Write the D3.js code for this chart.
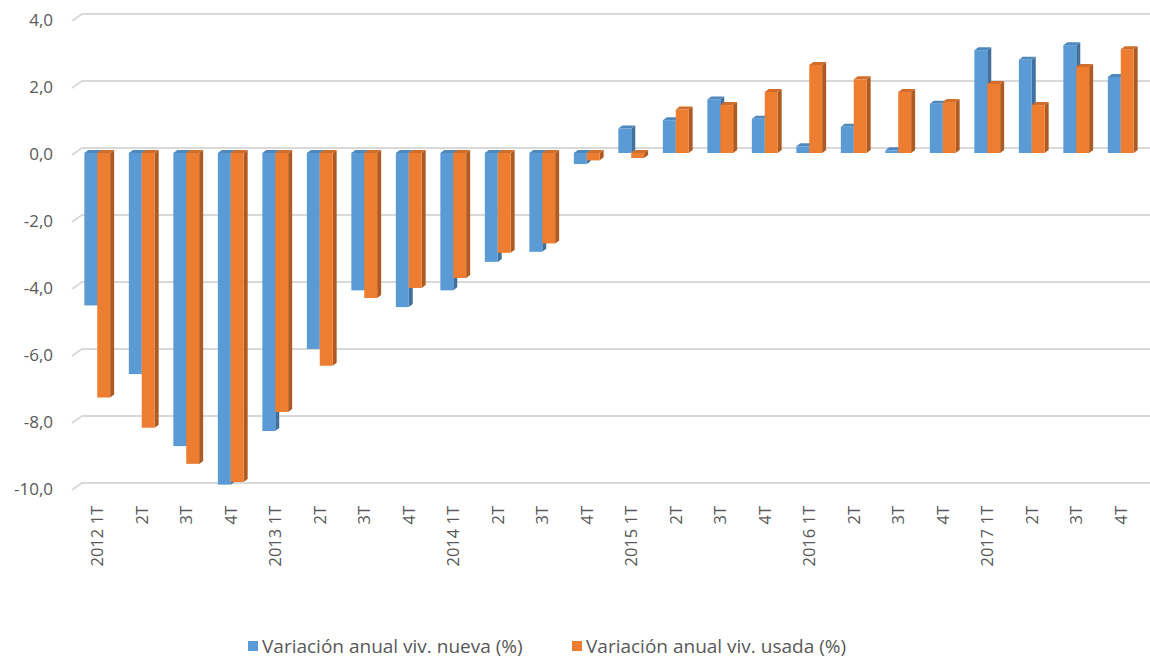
<!DOCTYPE html>
<html>
<head>
<meta charset="utf-8">
<script src="https://cdn.jsdelivr.net/npm/d3@7"></script>
<style>
  body { margin: 0; background: #fff; }
  text { font-family: "Open Sans", "Noto Sans", sans-serif; fill: #595959; }
</style>
</head>
<body>
<svg width="1150" height="659"></svg>
<script>
var categories = ['2012 1T', '2T', '3T', '4T', '2013 1T', '2T', '3T', '4T',
  '2014 1T', '2T', '3T', '4T', '2015 1T', '2T', '3T', '4T',
  '2016 1T', '2T', '3T', '4T', '2017 1T', '2T', '3T', '4T'];

var nueva = [-4.55, -6.6, -8.75, -9.9, -8.3, -5.85, -4.1, -4.6,
  -4.1, -3.25, -2.95, -0.33, 0.73, 0.98, 1.6, 1.02,
  0.2, 0.78, 0.08, 1.47, 3.07, 2.78, 3.22, 2.27];

var usada = [-7.3, -8.2, -9.28, -9.82, -7.73, -6.35, -4.33, -4.03,
  -3.73, -2.98, -2.7, -0.22, -0.15, 1.3, 1.43, 1.82,
  2.63, 2.2, 1.82, 1.52, 2.06, 1.43, 2.57, 3.1];

var yTicks = [4, 2, 0, -2, -4, -6, -8, -10];
var yTickLabels = ['4,0', '2,0', '0,0', '-2,0', '-4,0', '-6,0', '-8,0', '-10,0'];

var seriesNames = ['Variación anual viv. nueva (%)', 'Variación anual viv. usada (%)'];

var width = 1150;
var height = 659;
var depthX = 4, depthY = 3;   // bar side / top depth
var wallX = 10, wallY = 7;    // gridline floor diagonal

var svg = d3.select('svg');

var xScale = d3.scaleBand()
  .domain(d3.range(categories.length))
  .range([75, 1143])
  .paddingInner(0.42)
  .paddingOuter(0.21);

var yScale = d3.scaleLinear()
  .domain([-10, 4])
  .range([488, 19]);

// back wall gridlines
var grid = svg.append('g');
yTicks.forEach(function (t) {
  var yb = yScale(t) - 5;
  grid.append('path')
    .attr('d', 'M' + (82 - wallX) + ',' + (yb + wallY) + 'L82,' + yb + 'L' + width + ',' + yb)
    .attr('fill', 'none')
    .attr('stroke', '#d9d9d9')
    .attr('stroke-width', 2);
});

// y labels
svg.append('g')
  .selectAll('text')
  .data(yTicks)
  .enter()
  .append('text')
  .attr('x', 53)
  .attr('y', d => yScale(d) + 1)
  .attr('dy', '0.35em')
  .style('text-anchor', 'end')
  .style('font-size', '17px')
  .text((d, i) => yTickLabels[i]);

var sub = d3.scaleBand()
  .domain([0, 1])
  .range([0, xScale.bandwidth()]);

var series = [
  { values: nueva, front: '#5b9bd5', side: '#41719c', top: '#4f88bd' },
  { values: usada, front: '#ed7d31', side: '#ae5a21', top: '#d06d2a' }
];

var bars = svg.append('g');
categories.forEach(function (c, i) {
  series.forEach(function (s, k) {
    var v = s.values[i];
    var x0 = xScale(i) + sub(k);
    var x1 = x0 + sub.bandwidth();
    var yTop = yScale(Math.max(0, v));
    var yBot = yScale(Math.min(0, v));
    var g = bars.append('g');
    g.append('path')
      .attr('d', 'M' + x1 + ',' + yTop + 'L' + (x1 + depthX) + ',' + (yTop - depthY) +
        'L' + (x1 + depthX) + ',' + (yBot - depthY) + 'L' + x1 + ',' + yBot + 'Z')
      .attr('fill', s.side);
    g.append('path')
      .attr('d', 'M' + x0 + ',' + yTop + 'L' + (x0 + depthX) + ',' + (yTop - depthY) +
        'L' + (x1 + depthX) + ',' + (yTop - depthY) + 'L' + x1 + ',' + yTop + 'Z')
      .attr('fill', s.top);
    g.append('rect')
      .attr('x', x0)
      .attr('y', yTop)
      .attr('width', sub.bandwidth())
      .attr('height', Math.max(0.5, yBot - yTop))
      .attr('fill', s.front);
  });
});

// x labels
svg.append('g')
  .selectAll('text')
  .data(categories)
  .enter()
  .append('text')
  .attr('transform', (d, i) => 'translate(' + (xScale(i) + xScale.bandwidth() / 2 + 6) + ',506) rotate(-90)')
  .style('text-anchor', 'end')
  .style('font-size', '16.5px')
  .text(d => d);

// legend
var legendX = [248, 572];
var legend = svg.append('g');
seriesNames.forEach(function (name, k) {
  legend.append('rect')
    .attr('x', legendX[k])
    .attr('y', 641)
    .attr('width', 10)
    .attr('height', 10)
    .attr('fill', series[k].front);
  legend.append('text')
    .attr('x', legendX[k] + 14)
    .attr('y', 653)
    .style('font-size', '19px')
    .text(name);
});
</script>
</body>
</html>
